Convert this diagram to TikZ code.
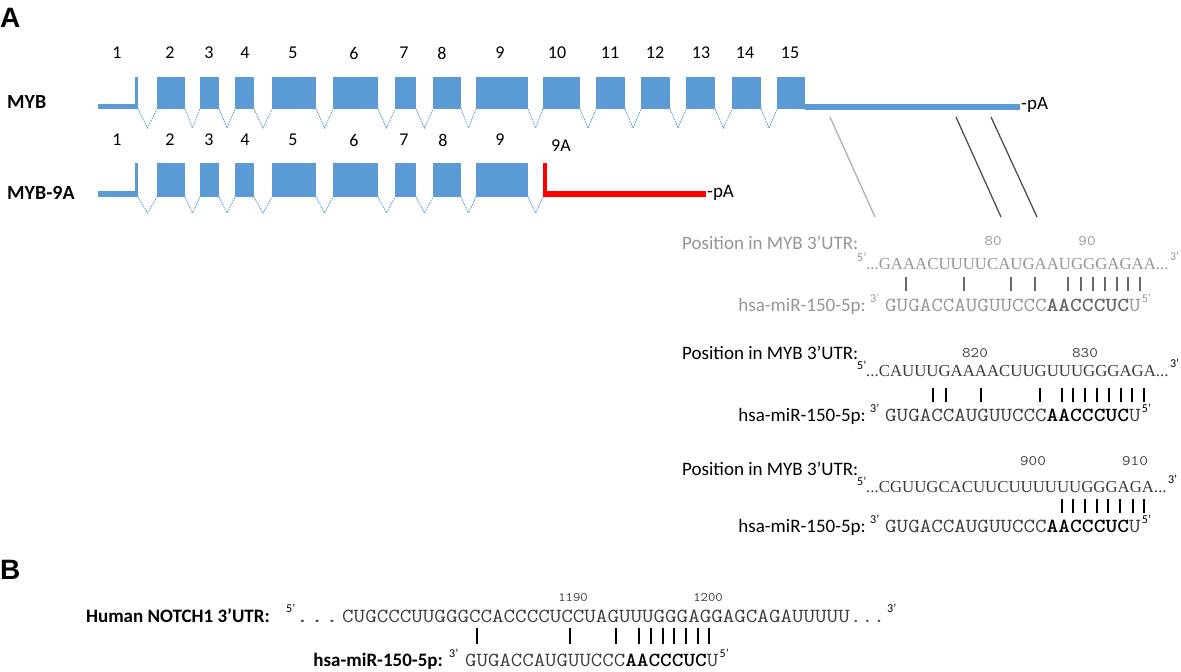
\documentclass[tikz,border=0pt]{standalone}
\usepackage{fontspec}
\setmainfont{Carlito}
\newfontfamily\serifseq{Liberation Serif}
\newfontfamily\headfont{Liberation Sans}
\newcommand\fs[1]{\fontsize{#1}{#1}\selectfont}
\newcommand\cour[3]{\scalebox{#1}[1]{\fs{#2}\ttfamily #3}}
\definecolor{exonblue}{RGB}{91,155,213}
\definecolor{redA}{RGB}{255,0,0}
\definecolor{grayA}{RGB}{150,150,150}
\definecolor{grayB}{RGB}{105,105,105}
\definecolor{seqcol}{RGB}{60,60,60}
\definecolor{lineL}{RGB}{175,175,175}
\definecolor{lineD}{RGB}{80,80,80}
\tikzset{
  panel/.style={inner sep=0, font=\headfont\bfseries\fs{28}},
  rowlbl/.style={inner sep=0, font=\bfseries\fs{20}},
  exnum/.style={inner sep=0, font=\fs{18}},
  pa/.style={inner sep=0, font=\fs{19}},
  exon/.style={fill=exonblue},
  intron/.style={draw=exonblue, line width=0.8pt, dash pattern=on 1.6pt off 1pt},
  redL/.style={fill=redA},
  poslbl/.style={inner sep=0, font=\fs{19}},
  boldlbl/.style={inner sep=0, font=\bfseries\fs{19}},
  supr/.style={inner sep=0, font=\fs{12}},
  tseq/.style={inner sep=0, font=\serifseq\fs{16.8}},
  mseq/.style={inner sep=0},
  numsty/.style={inner sep=0},
  pairbar/.style={line width=1.4pt},
  diag/.style={line width=1.3pt}
}
\begin{document}
\begin{tikzpicture}[x=1pt,y=-1pt]
\useasboundingbox (0,0) rectangle (1181,672);
\fill[white] (0,0) rectangle (1181,672);

% panel letters
\node[panel, anchor=base west] (lA) at (0,27) {A};
\node[panel, anchor=base west] (lB) at (0,579) {B};

% row labels
\node[rowlbl, anchor=west] (rMYB) at (7,102) {MYB};
\node[rowlbl, anchor=west] (r9A) at (7,193) {MYB-9A};

% ---------- MYB row ----------
\fill[exon] (98,104) rectangle (138,109);
\fill[exon] (134.5,77) rectangle (138,109);
\foreach \a/\b in {157/185,200/219,235/254,272/316,333/378,395/416,433/461,476/528,543/580,596/625,641/670,686/715,732/761,777/805}
  \fill[exon] (\a,77) rectangle (\b,109);
\fill[exon] (805,103.5) rectangle (1020,109.5);
\foreach \e/\s in {138/157,185/200,219/235,254/272,316/333,378/395,416/433,461/476,528/543,580/596,625/641,670/686,715/732,761/777}
  \draw[intron] (\e,109) -- ({(\e+\s)/2},128) -- (\s,109);
\foreach \n/\x in {1/117,2/170,3/209,4/245,5/293,6/354,7/404,8/442,9/500,10/557,11/610,12/655,13/701,14/745,15/790}
  \node[exnum] (na\n) at (\x,53) {\n};
\node[pa, anchor=west] (pA1) at (1021,105) {-pA};

% ---------- MYB-9A row ----------
\fill[exon] (98,191) rectangle (138,197);
\fill[exon] (134.5,163) rectangle (138,197);
\foreach \a/\b in {157/185,200/219,235/254,272/316,333/378,395/416,433/461,476/528}
  \fill[exon] (\a,163) rectangle (\b,197);
\foreach \e/\s in {138/157,185/200,219/235,254/272,316/333,378/395,416/433,461/476,528/543}
  \draw[intron] (\e,197) -- ({(\e+\s)/2},213) -- (\s,197);
\fill[redL] (543,163) rectangle (546.5,197);
\fill[redL] (543,191) rectangle (706,196.5);
\foreach \n/\x in {1/117,2/170,3/209,4/245,5/293,6/354,7/404,8/443,9/500}
  \node[exnum] (nb\n) at (\x,140) {\n};
\node[exnum] (nb9A) at (561,146) {9A};
\node[pa, anchor=west] (pA2) at (707,193) {-pA};

% ---------- connectors to 3'UTR sites ----------
\coordinate (d1a) at (830,117); \coordinate (d1b) at (875,217);
\coordinate (d2a) at (956,117); \coordinate (d2b) at (1001,217);
\coordinate (d3a) at (991,117); \coordinate (d3b) at (1037,217);
\draw[diag, draw=lineL] (d1a) -- (d1b);
\draw[diag, draw=lineD] (d2a) -- (d2b);
\draw[diag, draw=lineD] (d3a) -- (d3b);

% ---------- site 1 (grey) ----------
\begin{scope}[text=grayA]
\node[poslbl, anchor=base west] (p1) at (682,249) {Position in MYB 3’UTR:};
\node[numsty] (p1a) at (993,241) {\cour{1.15}{14.5}{80}};
\node[numsty] (p1b) at (1087,241) {\cour{1.15}{14.5}{90}};
\node[supr, anchor=base west] (p1s) at (857,261) {5’};
\node[tseq, anchor=base west] (t1) at (866,269) {...GAAACUUUUCAUGAAUGGGAGAA...};
\node[supr, anchor=base west] (t1e) at ([xshift=1pt,yshift=9pt]t1.base east) {3’};
\node[poslbl, anchor=base east] (m1l) at (866,311) {hsa-miR-150-5p:};
\node[supr, anchor=base west] (m1s) at (870,302) {3’};
\node[mseq, anchor=base west] (m1) at (885,311) {\cour{1.12}{20}{GUGACCAUGUUCCC{\color{grayB}\bfseries AACCCUC}U}};
\node[supr, anchor=base west] (m1e) at ([xshift=1pt,yshift=9pt]m1.base east) {5’};
\end{scope}
\foreach \x in {906,964,1011,1035,1068,1081,1093,1105,1117,1128,1140}
  \draw[pairbar, draw=grayB] (\x,277) -- (\x,291);

% ---------- site 2 ----------
\node[poslbl, anchor=base west] (p2) at (682,359) {Position in MYB 3’UTR:};
\node[numsty, text=seqcol] (p2a) at (975,353) {\cour{1.15}{14.5}{820}};
\node[numsty, text=seqcol] (p2b) at (1085,353) {\cour{1.15}{14.5}{830}};
\node[supr, anchor=base west] (p2s) at (857,369) {5’};
\node[tseq, text=seqcol, anchor=base west] (t2) at (866,376) {...CAUUUGAAAACUUGUUUGGGAGA...};
\node[supr, anchor=base west] (t2e) at ([xshift=1pt,yshift=9pt]t2.base east) {3’};
\node[poslbl, anchor=base east] (m2l) at (866,421) {hsa-miR-150-5p:};
\node[supr, anchor=base west] (m2s) at (870,412) {3’};
\node[mseq, text=seqcol, anchor=base west] (m2) at (885,421) {\cour{1.12}{20}{GUGACCAUGUUCCC{\color{black}\bfseries AACCCUC}U}};
\node[supr, anchor=base west] (m2e) at ([xshift=1pt,yshift=9pt]m2.base east) {5’};
\foreach \x in {933,946,981,1040,1062,1073,1085,1097,1109,1121,1132,1144}
  \draw[pairbar, draw=black] (\x,388) -- (\x,402);

% ---------- site 3 ----------
\node[poslbl, anchor=base west] (p3) at (682,475) {Position in MYB 3’UTR:};
\node[numsty, text=seqcol] (p3a) at (1033,461) {\cour{1.15}{14.5}{900}};
\node[numsty, text=seqcol] (p3b) at (1135,461) {\cour{1.15}{14.5}{910}};
\node[supr, anchor=base west] (p3s) at (857,485) {5’};
\node[tseq, text=seqcol, anchor=base west] (t3) at (866,492) {...CGUUGCACUUCUUUUUUGGGAGA...};
\node[supr, anchor=base west] (t3e) at ([xshift=1pt,yshift=9pt]t3.base east) {3’};
\node[poslbl, anchor=base east] (m3l) at (866,532) {hsa-miR-150-5p:};
\node[supr, anchor=base west] (m3s) at (870,523) {3’};
\node[mseq, text=seqcol, anchor=base west] (m3) at (885,532) {\cour{1.12}{20}{GUGACCAUGUUCCC{\color{black}\bfseries AACCCUC}U}};
\node[supr, anchor=base west] (m3e) at ([xshift=1pt,yshift=9pt]m3.base east) {5’};
\foreach \x in {1062,1073,1085,1097,1108,1120,1133,1144}
  \draw[pairbar, draw=black] (\x,499) -- (\x,513);

% ---------- panel B ----------
\node[boldlbl, anchor=base east] (hN) at (270,622) {Human NOTCH1 3’UTR:};
\node[supr, anchor=base west] (hNs) at (286,612) {5’};
\node[mseq, text=seqcol, anchor=base west] (hNd) at (295,622) {\cour{1.43}{20}{...}};
\node[mseq, text=seqcol, anchor=base west] (tN) at (342,622) {\cour{1.12}{20}{CUGCCCUUGGGCCACCCCUCCUAGUUUGGGAGGAGCAGAUUUUU}};
\node[mseq, text=seqcol, anchor=base west] (tNd) at (tN.base east) {\cour{1.12}{20}{...}};
\node[supr, anchor=base west] (tNe) at ([xshift=2pt,yshift=10pt]tNd.base east) {3’};
\node[numsty, text=seqcol] (nN1) at (573,598) {\cour{1.1}{13}{1190}};
\node[numsty, text=seqcol] (nN2) at (708,598) {\cour{1.1}{13}{1200}};
\foreach \x in {477,570,616,639,651,663,674,686,698,709}
  \draw[pairbar, draw=black] (\x,628) -- (\x,644);
\node[boldlbl, anchor=base east] (mNl) at (443,666) {hsa-miR-150-5p:};
\node[supr, anchor=base west] (mNs) at (449,657) {3’};
\node[mseq, text=seqcol, anchor=base west] (mN) at (465,666) {\cour{1.11}{20}{GUGACCAUGUUCCC{\color{black}\bfseries AACCCUC}U}};
\node[supr, anchor=base west] (mNe) at ([xshift=1pt,yshift=9pt]mN.base east) {5’};
\end{tikzpicture}
\end{document}
